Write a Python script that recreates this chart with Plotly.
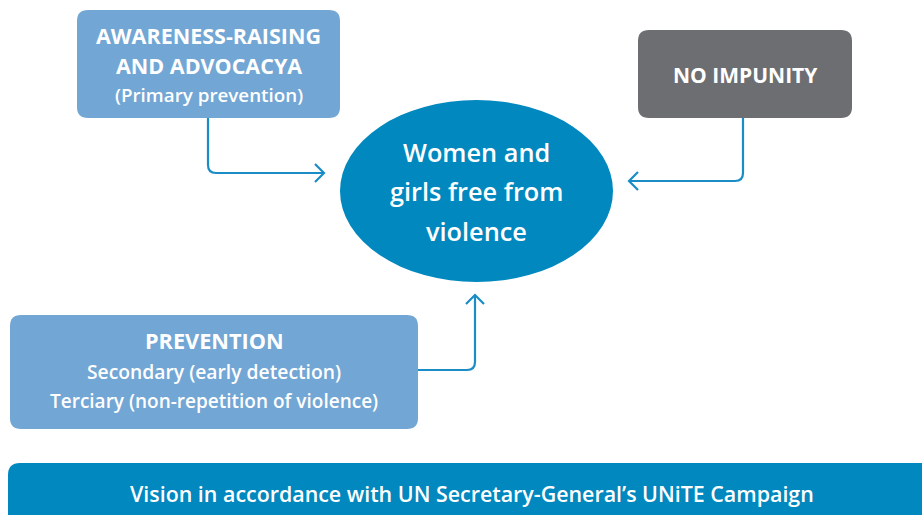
import plotly.graph_objects as go

W, H = 922, 515

# Diagram content
box_labels = [
    ["AWARENESS-RAISING", "AND ADVOCACYA", "(Primary prevention)"],
    ["NO IMPUNITY"],
    ["PREVENTION", "Secondary (early detection)", "Terciary (non-repetition of violence)"],
]
box_bold = [[True, True, False], [True], [True, False, False]]
box_colors = ["#72A6D4", "#6D6E71", "#72A6D4"]
# box extents: x0, x1, y0, y1 (pixel-like diagram units)
box_x0 = [77, 638, 10]
box_x1 = [340, 852, 418]
box_y0 = [10, 30, 315]
box_y1 = [118, 118, 429]
box_line_y = [[35, 65, 95], [75], [340, 371, 401]]
box_font = [[21.5, 21.5, 18.8], [21], [21.7, 19.3, 19.0]]

center_label = ["Women and", "girls free from", "violence"]
center_line_y = [152, 191, 231]
ellipse = dict(x0=340, x1=613, y0=100, y1=282)

footer_label = "Vision in accordance with UN Secretary-General’s UNiTE Campaign"
footer_box = dict(x0=8, x1=940, y0=463, y1=530)
footer_text_y = 493

# connector paths: list of (x, y) points; last point is arrow tip
connectors = [
    [(208, 118), (208, 173), (324, 173)],
    [(743, 118), (743, 181), (629, 181)],
    [(418, 370), (475, 370), (475, 295)],
]

BLUE = "#0088BF"
LINE = "#1A8CC6"
FONT = "Open Sans"

fig = go.Figure()


def rrect(x0, x1, y0, y1, r=11):
    return (f"M {x0+r},{y0} L {x1-r},{y0} Q {x1},{y0} {x1},{y0+r} "
            f"L {x1},{y1-r} Q {x1},{y1} {x1-r},{y1} L {x0+r},{y1} "
            f"Q {x0},{y1} {x0},{y1-r} L {x0},{y0+r} Q {x0},{y0} {x0+r},{y0} Z")


shapes = []
annotations = []

for i in range(len(box_labels)):
    shapes.append(dict(type="path", path=rrect(box_x0[i], box_x1[i], box_y0[i], box_y1[i]),
                       fillcolor=box_colors[i], line=dict(width=0), layer="below"))
    cx = (box_x0[i] + box_x1[i]) / 2
    for j, t in enumerate(box_labels[i]):
        annotations.append(dict(x=cx, y=box_line_y[i][j], text=t, showarrow=False,
                                xanchor="center", yanchor="middle",
                                font=dict(family=FONT, size=box_font[i][j], color="white",
                                          weight=700 if box_bold[i][j] else 600)))

shapes.append(dict(type="circle", fillcolor=BLUE, line=dict(width=0), layer="below", **ellipse))
ecx = (ellipse["x0"] + ellipse["x1"]) / 2
for t, y in zip(center_label, center_line_y):
    annotations.append(dict(x=ecx, y=y, text=t, showarrow=False, xanchor="center", yanchor="middle",
                            font=dict(family=FONT, size=25.3, color="white", weight=600)))

shapes.append(dict(type="path", path=rrect(footer_box["x0"], footer_box["x1"], footer_box["y0"], footer_box["y1"], 12),
                   fillcolor=BLUE, line=dict(width=0), layer="below"))
annotations.append(dict(x=472, y=footer_text_y, text=footer_label, showarrow=False,
                        xanchor="center", yanchor="middle",
                        font=dict(family=FONT, size=21.4, color="white", weight=600)))

for pts in connectors:
    (ax, ay), (bx, by), (cx_, cy_) = pts
    r = 8
    def toward(p, q, d):
        dx = q[0] - p[0]; dy = q[1] - p[1]
        L = (dx * dx + dy * dy) ** 0.5
        return (p[0] + dx / L * d, p[1] + dy / L * d)
    p1 = toward((bx, by), (ax, ay), r)
    p2 = toward((bx, by), (cx_, cy_), r)
    path = f"M {ax},{ay} L {p1[0]},{p1[1]} Q {bx},{by} {p2[0]},{p2[1]} L {cx_},{cy_}"
    shapes.append(dict(type="path", path=path, line=dict(color=LINE, width=2.2)))
    dx = cx_ - bx; dy = cy_ - by
    L = (dx * dx + dy * dy) ** 0.5
    ux, uy = dx / L, dy / L
    px, py = -uy, ux
    s = 9
    h1 = (cx_ - ux * s + px * s, cy_ - uy * s + py * s)
    h2 = (cx_ - ux * s - px * s, cy_ - uy * s - py * s)
    shapes.append(dict(type="path",
                       path=f"M {h1[0]},{h1[1]} L {cx_},{cy_} L {h2[0]},{h2[1]}",
                       line=dict(color=LINE, width=2.2)))

fig.update_layout(
    width=W, height=H, margin=dict(l=0, r=0, t=0, b=0),
    paper_bgcolor="white", plot_bgcolor="white",
    xaxis=dict(range=[0, W], visible=False, fixedrange=True),
    yaxis=dict(range=[H, 0], visible=False, fixedrange=True),
    shapes=shapes, annotations=annotations, showlegend=False,
)

fig.write_html("out.html", config={"displayModeBar": False},
               post_script="document.body.style.margin='0';document.body.style.overflow='hidden';")
